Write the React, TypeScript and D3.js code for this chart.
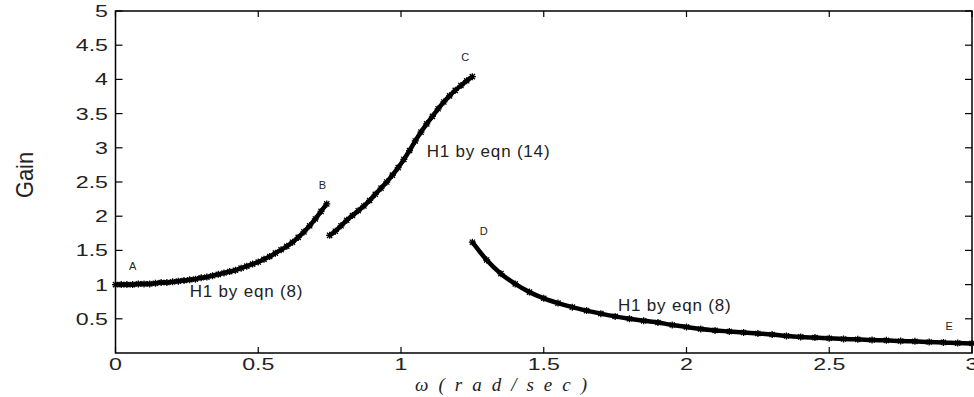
import React from "react";
import * as d3 from "d3";

const W = 974;
const H = 397;

// Segment A-B : H1 by eqn (8)
const seg1X = [0, 0.02, 0.04, 0.06, 0.08, 0.1, 0.12, 0.14, 0.16, 0.18, 0.2, 0.22, 0.24, 0.26, 0.28, 0.3, 0.32, 0.34, 0.36, 0.38, 0.4, 0.42, 0.44, 0.46, 0.48, 0.5, 0.52, 0.54, 0.56, 0.58, 0.6, 0.62, 0.64, 0.66, 0.68, 0.7, 0.72, 0.74];
const seg1Y = [1.0, 1.0, 1.0, 1.0, 1.01, 1.01, 1.01, 1.02, 1.03, 1.03, 1.04, 1.05, 1.06, 1.07, 1.08, 1.1, 1.11, 1.13, 1.15, 1.17, 1.19, 1.21, 1.24, 1.27, 1.3, 1.33, 1.37, 1.41, 1.46, 1.51, 1.56, 1.62, 1.69, 1.77, 1.86, 1.96, 2.07, 2.18];

// Segment B-C : H1 by eqn (14)
const seg2X = [0.75, 0.77, 0.79, 0.81, 0.83, 0.85, 0.87, 0.89, 0.91, 0.93, 0.95, 0.97, 0.99, 1.01, 1.03, 1.05, 1.07, 1.09, 1.11, 1.13, 1.15, 1.17, 1.19, 1.21, 1.23, 1.25];
const seg2Y = [1.72, 1.78, 1.86, 1.94, 2.01, 2.08, 2.15, 2.23, 2.32, 2.41, 2.5, 2.6, 2.71, 2.83, 2.96, 3.1, 3.23, 3.35, 3.46, 3.57, 3.67, 3.76, 3.84, 3.91, 3.98, 4.04];

// Segment D-E : H1 by eqn (8)
const seg3X = [1.25, 1.3, 1.35, 1.4, 1.45, 1.5, 1.55, 1.6, 1.65, 1.7, 1.75, 1.8, 1.85, 1.9, 1.95, 2.0, 2.05, 2.1, 2.15, 2.2, 2.25, 2.3, 2.35, 2.4, 2.45, 2.5, 2.55, 2.6, 2.65, 2.7, 2.75, 2.8, 2.85, 2.9, 2.95, 3.0];
const seg3Y = [1.62, 1.36, 1.16, 1.01, 0.89, 0.8, 0.73, 0.67, 0.62, 0.575, 0.535, 0.5, 0.47, 0.445, 0.41, 0.38, 0.35, 0.33, 0.315, 0.3, 0.285, 0.27, 0.25, 0.235, 0.225, 0.215, 0.205, 0.2, 0.19, 0.185, 0.175, 0.17, 0.16, 0.155, 0.145, 0.14];

const xTicks = [0, 0.5, 1, 1.5, 2, 2.5, 3];
const xTickLabels = ["0", "0.5", "1", "1.5", "2", "2.5", "3"];
const yTicks = [0.5, 1, 1.5, 2, 2.5, 3, 3.5, 4, 4.5, 5];
const yTickLabels = ["0.5", "1", "1.5", "2", "2.5", "3", "3.5", "4", "4.5", "5"];

const pointLabels = ["A", "B", "C", "D", "E"];
const pointLabelX = [0.06, 0.725, 1.225, 1.29, 2.92];
const pointLabelY = [1.22, 2.4, 4.27, 1.72, 0.34];

const curveLabels = ["H1 by eqn (8)", "H1 by eqn (14)", "H1 by eqn (8)"];
const curveLabelX = [0.26, 1.09, 1.76];
const curveLabelY = [0.82, 2.86, 0.62];

export default function App() {
  const left = 115.5;
  const right = 972;
  const top = 11;
  const bottom = 353;
  const x = d3.scaleLinear().domain([0, 3]).range([left, right]);
  const y = d3.scaleLinear().domain([0, 5]).range([bottom, top]);

  const line = d3
    .line<[number, number]>()
    .x((d) => x(d[0]))
    .y((d) => y(d[1]))
    .curve(d3.curveMonotoneX);

  const segs = [
    d3.zip(seg1X, seg1Y) as [number, number][],
    d3.zip(seg2X, seg2Y) as [number, number][],
    d3.zip(seg3X, seg3Y) as [number, number][],
  ];

  const font = "'Liberation Sans', Arial, sans-serif";
  const star = "M-3.5,0H3.5M0,-3.5V3.5M-2.6,-2.6L2.6,2.6M-2.6,2.6L2.6,-2.6";

  return (
    <div style={{ position: "fixed", left: 0, top: 0, width: W, height: H, background: "#fff" }}>
      <svg width={W} height={H} style={{ display: "block" }}>
        <rect x={0} y={0} width={W} height={H} fill="#fff" />
        {/* box */}
        <rect x={left} y={top} width={right - left} height={bottom - top} fill="none" stroke="#000" strokeWidth={1.5} />
        {/* x ticks */}
        {xTicks.map((t, i) => (
          <g key={"xt" + i}>
            <line x1={x(t)} x2={x(t)} y1={bottom} y2={bottom - 6} stroke="#000" strokeWidth={1.2} />
            <line x1={x(t)} x2={x(t)} y1={top} y2={top + 6} stroke="#000" strokeWidth={1.2} />
            <text
              transform={`translate(${x(t)},${370}) scale(1.45,1)`}
              textAnchor="middle"
              fontFamily={font}
              fontSize={16}
              fill="#222"
            >
              {xTickLabels[i]}
            </text>
          </g>
        ))}
        {/* y ticks */}
        {yTicks.map((t, i) => (
          <g key={"yt" + i}>
            <line x1={left} x2={left + 7} y1={y(t)} y2={y(t)} stroke="#000" strokeWidth={1.2} />
            <line x1={right} x2={right - 7} y1={y(t)} y2={y(t)} stroke="#000" strokeWidth={1.2} />
            <text
              transform={`translate(${108},${y(t) + 6}) scale(1.45,1)`}
              textAnchor="end"
              fontFamily={font}
              fontSize={16}
              fill="#222"
            >
              {yTickLabels[i]}
            </text>
          </g>
        ))}
        {/* curves */}
        {segs.map((s, i) => (
          <g key={"s" + i}>
            <path d={line(s) || ""} fill="none" stroke="#000" strokeWidth={4.5} />
            {s.map((p, j) => (
              <path
                key={j}
                d={star}
                transform={`translate(${x(p[0])},${y(p[1])})`}
                stroke="#000"
                strokeWidth={1.3}
                fill="none"
              />
            ))}
          </g>
        ))}
        {/* point labels */}
        {pointLabels.map((l, i) => (
          <text
            key={"pl" + i}
            x={x(pointLabelX[i])}
            y={y(pointLabelY[i])}
            textAnchor="middle"
            fontFamily={font}
            fontSize={11}
            fill="#222"
          >
            {l}
          </text>
        ))}
        {/* curve labels */}
        {curveLabels.map((l, i) => (
          <text
            key={"cl" + i}
            x={x(curveLabelX[i])}
            y={y(curveLabelY[i])}
            fontFamily={font}
            fontSize={17}
            letterSpacing={0.8}
            fill="#222"
          >
            {l}
          </text>
        ))}
        {/* axis labels */}
        <text
          transform={`translate(${33},${175}) rotate(-90)`}
          textAnchor="middle"
          fontFamily={font}
          fontSize={24}
          textLength={46}
          lengthAdjust="spacingAndGlyphs"
          fill="#222"
        >
          Gain
        </text>
        <text
          x={501}
          y={391}
          textAnchor="middle"
          fontFamily="'Liberation Serif', 'DejaVu Serif', serif"
          fontStyle="italic"
          fontSize={19}
          textLength={172}
          lengthAdjust="spacing"
          fill="#222"
        >
          ω(rad/sec)
        </text>
      </svg>
    </div>
  );
}
